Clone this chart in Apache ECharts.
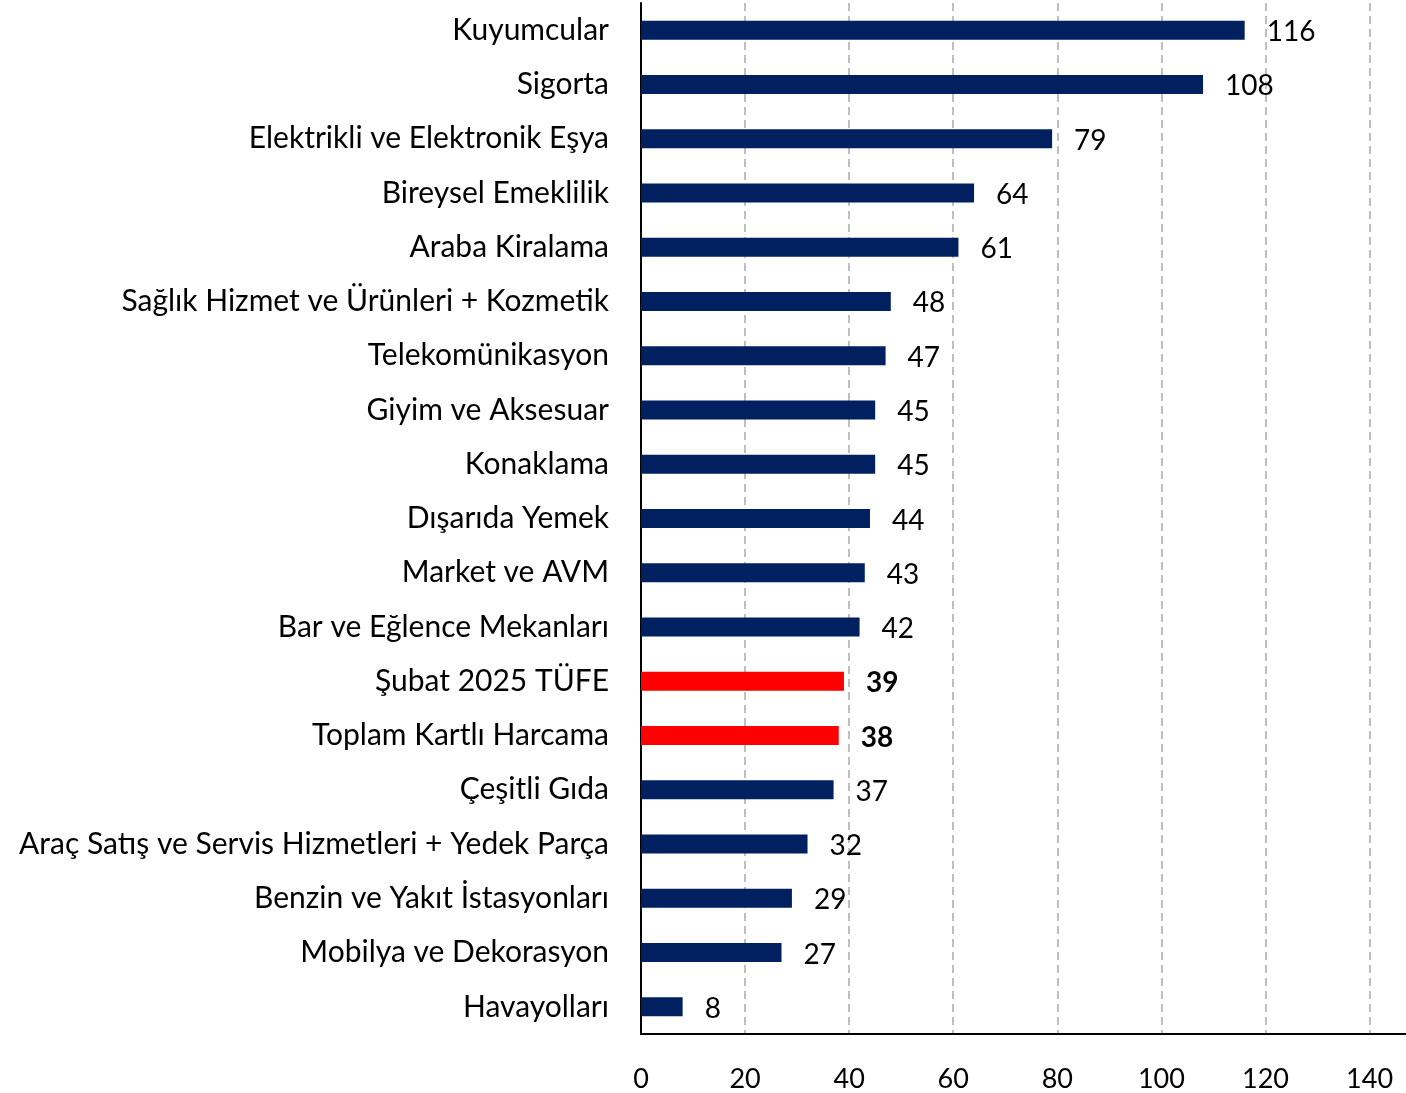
<!DOCTYPE html>
<html>
<head>
<meta charset="utf-8">
<script src="https://cdn.jsdelivr.net/npm/echarts@6/dist/echarts.min.js"></script>
<style>
  html, body { margin: 0; padding: 0; background: #fff; }
  #chart { width: 1406px; height: 1093px; }
</style>
</head>
<body>
<div id="chart"></div>
<script>
    // categories top to bottom as in the picture
    var categories = [
        'Kuyumcular', 'Sigorta', 'Elektrikli ve Elektronik Eşya', 'Bireysel Emeklilik',
        'Araba Kiralama', 'Sağlık Hizmet ve Ürünleri + Kozmetik', 'Telekomünikasyon',
        'Giyim ve Aksesuar', 'Konaklama', 'Dışarıda Yemek', 'Market ve AVM',
        'Bar ve Eğlence Mekanları', 'Şubat 2025 TÜFE', 'Toplam Kartlı Harcama',
        'Çeşitli Gıda', 'Araç Satış ve Servis Hizmetleri + Yedek Parça',
        'Benzin ve Yakıt İstasyonları', 'Mobilya ve Dekorasyon', 'Havayolları'
    ];
    var values = [116, 108, 79, 64, 61, 48, 47, 45, 45, 44, 43, 42, 39, 38, 37, 32, 29, 27, 8];
    var highlighted = ['Şubat 2025 TÜFE', 'Toplam Kartlı Harcama'];
    var xTicks = [0, 20, 40, 60, 80, 100, 120, 140];

    var chart = echarts.init(document.getElementById('chart'));
    var font = 'Lato';

    var barData = categories.map(function (c, i) {
        var hot = highlighted.indexOf(c) >= 0;
        return {
            value: values[i],
            itemStyle: { color: hot ? '#FF0000' : '#002060' },
            label: { fontWeight: hot ? 'bold' : 'normal' }
        };
    });

    var option = {
        animation: false,
        backgroundColor: '#fff',
        grid: { left: 641, right: 0, top: 3, bottom: 59 },
        xAxis: {
            type: 'value',
            min: 0,
            max: 147,
            interval: 20,
            axisLine: { show: true, lineStyle: { color: '#000', width: 2 } },
            axisTick: { show: false },
            axisLabel: {
                color: '#000', fontSize: 27, fontFamily: font, margin: 32,
                showMaxLabel: false,
                formatter: function (v) { return xTicks.indexOf(v) >= 0 ? v : ''; }
            },
            splitLine: {
                show: true,
                showMinLine: false,
                showMaxLine: false,
                lineStyle: { color: '#BFBFBF', type: [8, 5], width: 2 }
            }
        },
        yAxis: {
            type: 'category',
            inverse: true,
            data: categories,
            axisLine: { show: true, lineStyle: { color: '#000', width: 2 } },
            axisTick: { show: false },
            axisLabel: { color: '#000', fontSize: 30, fontFamily: font, margin: 32 }
        },
        series: [{
            type: 'bar',
            data: barData,
            barWidth: 19,
            label: {
                show: true,
                position: 'right',
                distance: 22,
                offset: [0, 2],
                color: '#000',
                fontSize: 28,
                fontFamily: font
            }
        }]
    };

    chart.setOption(option);
</script>
</body>
</html>
